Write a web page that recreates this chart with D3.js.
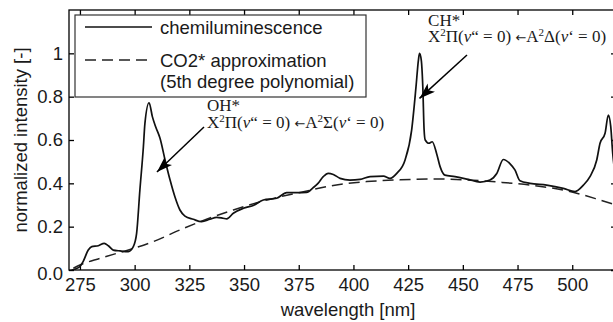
<!DOCTYPE html>
<html>
<head>
<meta charset="utf-8">
<script src="https://cdn.jsdelivr.net/npm/d3@7"></script>
<style>
  body { margin: 0; background: #fff; }
  text { fill: #1a1a1a; }
  .axis path, .axis line { stroke: #000; stroke-width: 1.3; }
  .axis text { font-family: "Liberation Sans", Arial, sans-serif; font-size: 18.5px; }
  .sans { font-family: "Liberation Sans", Arial, sans-serif; font-size: 18.5px; }
  .serif { font-family: "Liberation Serif", "Times New Roman", serif; font-size: 17px; }
</style>
</head>
<body>
<svg id="chart"></svg>
<script>
// chemiluminescence spectrum
const chemWl = [271.2, 273, 275, 276.5, 278.8, 280.4, 283.4, 286.1, 288, 290.2, 293.3, 297.1, 299.4,
  300.9, 302.4, 304, 304.7, 306.6, 308.1, 309.6, 311.6, 313.9, 316.2, 318.4, 320.7, 323, 326.8,
  330.6, 334.4, 337.5, 340.4, 342.1, 345.1, 349.7, 354.2, 358.8, 364.9, 369.5, 374.1, 378.6, 381.6,
  383.8, 386.2, 388.5, 390.8, 393.9, 398.4, 403, 407.6, 413.7, 416.7, 419.8, 423.6, 426.6, 428.6,
  429.7, 430.2, 431, 431.7, 432.3, 432.8, 434.5, 436, 438, 439.6, 441.8, 446.4, 452.5, 457.9, 462.4,
  465.5, 468.5, 471.6, 473.8, 476.1, 480.7, 488.3, 495.9, 501.3, 505.1, 508.1, 511.2, 512.7, 515,
  516.5, 517.6, 518.5, 519.5, 520.5]
const chemVal = [0.0, 0.005, 0.016, 0.04, 0.092, 0.108, 0.112, 0.123, 0.112, 0.092, 0.088, 0.085, 0.108,
  0.169, 0.369, 0.569, 0.677, 0.772, 0.708, 0.661, 0.608, 0.508, 0.415, 0.338, 0.277, 0.249, 0.234,
  0.223, 0.234, 0.243, 0.239, 0.236, 0.262, 0.285, 0.298, 0.323, 0.331, 0.357, 0.357, 0.358, 0.38,
  0.40, 0.431, 0.446, 0.441, 0.423, 0.415, 0.418, 0.431, 0.433, 0.423, 0.446, 0.508, 0.646, 0.846,
  0.969, 1.0, 0.969, 0.846, 0.646, 0.6, 0.585, 0.592, 0.538, 0.477, 0.438, 0.431, 0.418, 0.406, 0.415,
  0.445, 0.51, 0.49, 0.462, 0.412, 0.4, 0.392, 0.377, 0.362, 0.392, 0.431, 0.508, 0.585, 0.631,
  0.715, 0.662, 0.538, 0.45, 0.40]

// CO2* approximation (dashed)
const polyWl = [272, 275, 284.2, 297.9, 308.5, 320.7, 329.9, 345.1, 360.4, 375.6, 390.8, 406, 421.3,
  436.5, 451.8, 467, 482.2, 497.4, 512.7, 520]
const polyVal = [0.008, 0.023, 0.054, 0.095, 0.131, 0.185, 0.223, 0.277, 0.323, 0.358, 0.39, 0.408,
  0.416, 0.42, 0.416, 0.405, 0.39, 0.366, 0.323, 0.30]

const xTicks = [275, 300, 325, 350, 375, 400, 425, 450, 475, 500]
const yTicks = [0, 0.2, 0.4, 0.6, 0.8, 1.0]
const yTickLabels = ["0.0", "0.2", "0.4", "0.6", "0.8", "1"]

const margin = { top: 10, left: 69 }
const w = 547
const h = 260

var root = d3.select("#chart").attr("width", 613).attr("height", 322)
var svg = root.append("g").attr("transform", "translate(" + margin.left + "," + margin.top + ")")

var x = d3.scaleLinear().domain([270, 520]).range([0, w])
var y = d3.scaleLinear().domain([0, 1.2]).range([h, 0])

var defs = root.append("defs")
defs.append("clipPath").attr("id", "clip")
  .append("rect").attr("width", w).attr("height", h)
defs.append("marker")
  .attr("id", "head")
  .attr("markerUnits", "userSpaceOnUse")
  .attr("markerWidth", 17).attr("markerHeight", 12)
  .attr("refX", 16).attr("refY", 5.5)
  .attr("orient", "auto")
  .append("path")
  .attr("d", "M0,0 L16,5.5 L0,11 L4,5.5 Z")
  .attr("fill", "#000")

// axes, ticks pointing inward on all four sides
svg.append("g").attr("class", "axis")
  .attr("transform", "translate(0," + h + ")")
  .call(d3.axisBottom(x).tickValues(xTicks).tickSize(-5).tickPadding(8).tickSizeOuter(0))
svg.append("g").attr("class", "axis")
  .call(d3.axisTop(x).tickValues(xTicks).tickSize(-5).tickFormat("").tickSizeOuter(0))
var gY = svg.append("g").attr("class", "axis")
  .call(d3.axisLeft(y).tickValues(yTicks).tickSize(-5).tickPadding(6).tickSizeOuter(0)
    .tickFormat((d, i) => yTickLabels[i]))
svg.append("g").attr("class", "axis")
  .attr("transform", "translate(" + w + ",0)")
  .call(d3.axisRight(y).tickValues(yTicks).tickSize(-5).tickFormat("").tickSizeOuter(0))

// the 0.0 label sits a little low in the original
gY.selectAll(".tick text").filter(d => d === 0).attr("dy", "0.5em")

svg.selectAll(".axis .domain").remove()
svg.append("rect")
  .attr("width", w).attr("height", h)
  .attr("fill", "none").attr("stroke", "#000").attr("stroke-width", 1.3)

var plot = svg.append("g").attr("clip-path", "url(#clip)")

var line = d3.line()
  .x(d => x(d[0]))
  .y(d => y(d[1]))
  .curve(d3.curveMonotoneX)

plot.append("path")
  .datum(polyWl.map((d, i) => [d, polyVal[i]]))
  .attr("d", line)
  .attr("fill", "none")
  .attr("stroke", "#222")
  .attr("stroke-width", 1.5)
  .attr("stroke-dasharray", "11,6")

plot.append("path")
  .datum(chemWl.map((d, i) => [d, chemVal[i]]))
  .attr("d", line)
  .attr("fill", "none")
  .attr("stroke", "#111")
  .attr("stroke-width", 1.7)
  .attr("stroke-linejoin", "round")

// annotations in data coordinates
function bandLabel(wl, v, species, upper) {
  var g = svg.append("g").attr("class", "serif")
  g.append("text").attr("x", x(wl)).attr("y", y(v)).text(species)
  var t = g.append("text").attr("x", x(wl)).attr("y", y(v) + 16.5)
  var parts = [["X", 0], ["2", -6], ["\u03A0(", 6], ["\u03BD", 0, "i"], ["\u201C = 0) ", 0],
    ["\u2190", 0, "a"], ["A", 0], ["2", -6], [upper + "(", 6], ["\u03BD", 0, "i"], ["\u2018 = 0)", 0]]
  parts.forEach(p => {
    var s = t.append("tspan").attr("dy", p[1]).text(p[0])
    if (p[0] === "2") s.style("font-size", "11px")
    if (p[2] === "i") s.style("font-style", "italic")
    if (p[2] === "a") s.style("font-family", "'DejaVu Sans'").style("font-size", "13px")
  })
}
bandLabel(333.1, 0.732, "OH*", "\u03A3")
bandLabel(434.1, 1.127, "CH*", "\u0394")

function arrow(wl1, v1, wl2, v2) {
  svg.append("line")
    .attr("x1", x(wl1)).attr("y1", y(v1))
    .attr("x2", x(wl2)).attr("y2", y(v2))
    .attr("stroke", "#000").attr("stroke-width", 1.5)
    .attr("marker-end", "url(#head)")
}
arrow(331.7, 0.66, 310.2, 0.452)
arrow(451.9, 0.992, 430.2, 0.792)

// legend
var lg = root.append("g").attr("class", "sans")
lg.append("rect")
  .attr("x", 75).attr("y", 15).attr("width", 291).attr("height", 82)
  .attr("fill", "#fff").attr("stroke", "#333").attr("stroke-width", 1.2)
lg.append("line").attr("x1", 85).attr("x2", 152).attr("y1", 27).attr("y2", 27)
  .attr("stroke", "#111").attr("stroke-width", 1.7)
lg.append("line").attr("x1", 85).attr("x2", 152).attr("y1", 60).attr("y2", 60)
  .attr("stroke", "#222").attr("stroke-width", 1.5).attr("stroke-dasharray", "11,6")
lg.append("text").attr("x", 160).attr("y", 33.5).text("chemiluminescence")
lg.append("text").attr("x", 160).attr("y", 66.5).text("CO2* approximation")
lg.append("text").attr("x", 160).attr("y", 88).text("(5th degree polynomial)")

// axis titles
root.append("text").attr("class", "sans")
  .attr("text-anchor", "middle")
  .attr("x", 348).attr("y", 316)
  .text("wavelength [nm]")
root.append("text").attr("class", "sans")
  .attr("text-anchor", "middle")
  .attr("transform", "translate(27,140) rotate(-90)")
  .text("normalized intensity [-]")
</script>
</body>
</html>
